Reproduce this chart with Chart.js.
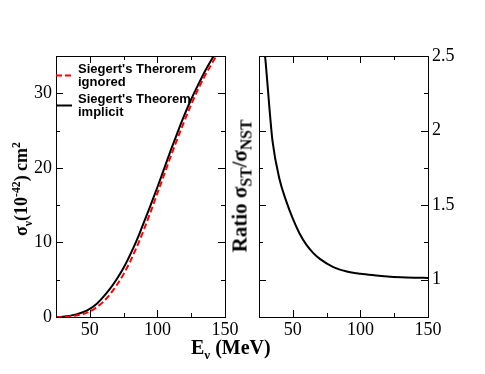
<!DOCTYPE html>
<html>
<head>
<meta charset="utf-8">
<script src="https://cdn.jsdelivr.net/npm/chart.js@4.4.1/dist/chart.umd.min.js"></script>
<style>
body { margin: 0; background: #fff; }
#wrap { position: relative; width: 485px; height: 374px; overflow: hidden; }
#wrap canvas { position: absolute; left: 0; top: 0; }
.ttl { position: absolute; font-family: "Liberation Serif", "Times New Roman", serif; font-weight: bold;
       font-size: 20px; white-space: nowrap; color: #000; line-height: 1; }
.rot { transform: translate(-50%, -50%) rotate(-90deg); }
.ttl sub, .ttl sup { font-size: 65%; line-height: 0; }
#ratioTitle { font-size: 21px; }
#ratioTitle sub { font-size: 75%; }
</style>
</head>
<body>
<div id="wrap">
  <canvas id="crossChart" width="485" height="374"></canvas>
  <canvas id="ratioChart" width="485" height="374"></canvas>
  <div class="ttl rot" style="left:21px;top:189px;font-size:18px;">&sigma;<sub>&nu;</sub>(10<sup>-42</sup>) cm<sup>2</sup></div>
  <div class="ttl rot" id="ratioTitle" style="left:240px;top:186px;">Ratio &sigma;<sub>ST</sub>/&sigma;<sub>NST</sub></div>
  <div class="ttl" style="left:191px;top:337px;">E<sub>&nu;</sub> (MeV)</div>
</div>
<script>
// neutrino energy (MeV)
var energy = [25, 30, 35, 40, 45, 50, 55, 60, 65, 70, 75, 80, 85, 90, 95, 100, 105, 110, 115, 120, 125, 130, 135, 140, 145, 150];
// cross sections, 10^-42 cm^2
var sigmaIgnored  = [0, 0.02, 0.08, 0.2, 0.4, 0.75, 1.3, 2.05, 3.05, 4.3, 5.75, 7.5, 9.5, 11.7, 14.1, 16.6, 19.1, 21.6, 24.0, 26.3, 28.5, 30.5, 32.3, 33.9, 35.4, 36.8];
var sigmaImplicit = [0, 0.05, 0.15, 0.35, 0.65, 1.1, 1.75, 2.7, 3.8, 5.1, 6.6, 8.4, 10.4, 12.7, 15.0, 17.4, 19.9, 22.4, 24.8, 27.1, 29.2, 31.1, 32.9, 34.5, 36.0, 37.4];
var legendLabels = [["Siegert's Therorem", "ignored"], ["Siegert's Theorem", "implicit"]];

// ratio sigma_ST / sigma_NST
var ratioEnergy = [28, 30, 33, 35, 40, 45, 50, 55, 60, 65, 70, 80, 90, 100, 110, 120, 130, 140, 150];
var ratioValues = [2.63, 2.45, 2.12, 1.93, 1.68, 1.53, 1.41, 1.31, 1.235, 1.18, 1.14, 1.085, 1.055, 1.04, 1.03, 1.022, 1.017, 1.014, 1.012];

var xTicks = { min: 25, max: 150, step: 25, major: 50 };
var crossTicks = { min: 0, max: 35, step: 5, major: 10 };
var ratioTicks = { min: 0.75, max: 2.5, step: 0.25, major: 0.5 };

Chart.defaults.font.family = 'Liberation Serif';

function toPoints(xs, ys) {
    var pts = [];
    for (var i = 0; i < xs.length; i++) pts.push({ x: xs[i], y: ys[i] });
    return pts;
}

function isMajor(v, major) {
    var q = v / major;
    return Math.abs(q - Math.round(q)) < 1e-6;
}

function tickFont() {
    return { family: 'Liberation Serif', size: 18 };
}

// frame + inward tick marks on all four sides
var frameTicks = {
    id: 'frameTicks',
    afterDatasetsDraw: function(chart, args, opts) {
        var ctx = chart.ctx, a = chart.chartArea;
        var xs = chart.scales.x, ys = chart.scales.y;
        ctx.save();
        ctx.strokeStyle = '#000';
        ctx.lineWidth = 1;
        ctx.beginPath();
        xs.ticks.forEach(function(t) {
            var px = Math.round(xs.getPixelForValue(t.value)) + 0.5;
            var len = isMajor(t.value, opts.xMajor) ? 7 : 4;
            ctx.moveTo(px, a.bottom); ctx.lineTo(px, a.bottom - len);
            ctx.moveTo(px, a.top); ctx.lineTo(px, a.top + len);
        });
        ys.ticks.forEach(function(t) {
            var py = Math.round(ys.getPixelForValue(t.value)) + 0.5;
            var len = isMajor(t.value, opts.yMajor) ? 7 : 4;
            ctx.moveTo(a.left, py); ctx.lineTo(a.left + len, py);
            ctx.moveTo(a.right, py); ctx.lineTo(a.right - len, py);
        });
        ctx.stroke();
        ctx.strokeRect(Math.round(a.left) + 0.5, Math.round(a.top) + 0.5,
                       Math.round(a.right - a.left), Math.round(a.bottom - a.top));
        ctx.restore();
    }
};

// two-line legend inside the left panel
var lineLegend = {
    id: 'lineLegend',
    afterDatasetsDraw: function(chart, args, opts) {
        if (!opts.entries) return;
        var ctx = chart.ctx, a = chart.chartArea;
        ctx.save();
        ctx.font = 'bold 13px "Liberation Sans", Arial, sans-serif';
        ctx.fillStyle = '#000';
        ctx.textBaseline = 'middle';
        opts.entries.forEach(function(e) {
            var ds = chart.data.datasets[e.dataset];
            ctx.strokeStyle = ds.borderColor;
            ctx.lineWidth = ds.borderWidth;
            ctx.setLineDash(ds.borderDash || []);
            ctx.beginPath();
            ctx.moveTo(a.left, e.y);
            ctx.lineTo(a.left + e.len, e.y);
            ctx.stroke();
            ctx.setLineDash([]);
            legendLabels[e.dataset].forEach(function(txt, k) {
                ctx.fillText(txt, a.left + 22, e.y - 6 + k * 12.5);
            });
        });
        ctx.restore();
    }
};

function xScale() {
    return {
        type: 'linear', min: xTicks.min, max: xTicks.max,
        grid: { display: false, drawTicks: false }, border: { display: false },
        ticks: {
            stepSize: xTicks.step, autoSkip: false, maxRotation: 0, padding: 2,
            color: '#000', font: tickFont(),
            callback: function(v) { return isMajor(v, xTicks.major) && v > xTicks.min ? v : ''; }
        },
        afterFit: function(s) { s.height = 57; }
    };
}

new Chart(document.getElementById('crossChart'), {
    type: 'line',
    data: {
        datasets: [{
            label: legendLabels[0].join(' '),
            data: toPoints(energy, sigmaIgnored),
            borderColor: '#ff0000', borderWidth: 2, borderDash: [6, 3],
            pointRadius: 0, cubicInterpolationMode: 'monotone', fill: false
        }, {
            label: legendLabels[1].join(' '),
            data: toPoints(energy, sigmaImplicit),
            borderColor: '#000000', borderWidth: 2,
            pointRadius: 0, cubicInterpolationMode: 'monotone', fill: false
        }]
    },
    options: {
        responsive: false, animation: false, events: [],
        layout: { padding: { top: 56, right: 260, bottom: 0, left: 0 } },
        plugins: {
            legend: { display: false }, tooltip: { enabled: false },
            frameTicks: { xMajor: xTicks.major, yMajor: crossTicks.major },
            lineLegend: { entries: [{ dataset: 0, y: 75.5, len: 18 }, { dataset: 1, y: 105.5, len: 16 }] }
        },
        scales: {
            x: xScale(),
            y: {
                type: 'linear', min: crossTicks.min, max: crossTicks.max,
                grid: { display: false, drawTicks: false }, border: { display: false },
                ticks: {
                    stepSize: crossTicks.step, padding: 4, color: '#000', font: tickFont(),
                    callback: function(v) { return isMajor(v, crossTicks.major) ? v : ''; }
                },
                afterFit: function(s) { s.width = 56; }
            }
        }
    },
    plugins: [frameTicks, lineLegend]
});

new Chart(document.getElementById('ratioChart'), {
    type: 'line',
    data: {
        datasets: [{
            label: 'Ratio',
            data: toPoints(ratioEnergy, ratioValues),
            borderColor: '#000000', borderWidth: 2,
            pointRadius: 0, cubicInterpolationMode: 'monotone', fill: false
        }]
    },
    options: {
        responsive: false, animation: false, events: [],
        layout: { padding: { top: 56, right: 0, bottom: 0, left: 259 } },
        plugins: {
            legend: { display: false }, tooltip: { enabled: false },
            frameTicks: { xMajor: xTicks.major, yMajor: ratioTicks.major }
        },
        scales: {
            x: xScale(),
            y: {
                type: 'linear', position: 'right', min: ratioTicks.min, max: ratioTicks.max,
                grid: { display: false, drawTicks: false }, border: { display: false },
                ticks: {
                    stepSize: ratioTicks.step, padding: 4, color: '#000', font: tickFont(),
                    callback: function(v) { return isMajor(v, ratioTicks.major) ? v : ''; }
                },
                afterFit: function(s) { s.width = 57; }
            }
        }
    },
    plugins: [frameTicks]
});
</script>
</body>
</html>
